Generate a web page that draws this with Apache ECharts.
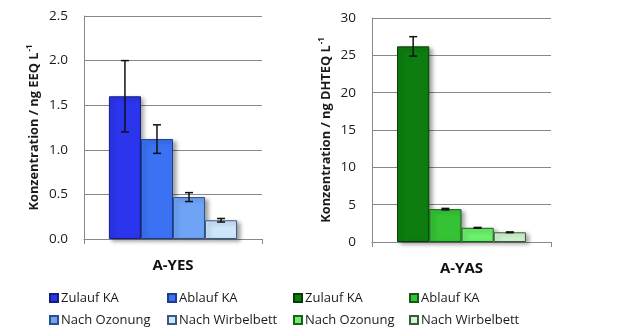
<!DOCTYPE html>
<html>
<head>
<meta charset="utf-8">
<script src="https://cdn.jsdelivr.net/npm/echarts@6/dist/echarts.min.js"></script>
<style>
  html, body { margin: 0; padding: 0; background: #fff; }
  #chart { width: 624px; height: 332px; }
</style>
</head>
<body>
<div id="chart"></div>
<script>
// Stages of wastewater treatment shown in both panels
const stages = ['Zulauf KA', 'Ablauf KA', 'Nach Ozonung', 'Nach Wirbelbett'];

// A-YES (estrogenic activity, ng EEQ/L)
const yesCategory = ['A-YES'];
const yesValues = [1.60, 1.12, 0.47, 0.21];
const yesErrors = [0.40, 0.16, 0.05, 0.02];
const yesTicks = [0, 0.5, 1.0, 1.5, 2.0, 2.5];

// A-YAS (anti-androgenic activity, ng DHTEQ/L)
const yasCategory = ['A-YAS'];
const yasValues = [26.2, 4.4, 1.9, 1.3];
const yasErrors = [1.3, 0.1, 0.05, 0.05];
const yasTicks = [0, 5, 10, 15, 20, 25, 30];

const FONT = 'Open Sans';
const blueFill = ['#2b35ee', '#3b72f4', '#6ea3f6', '#cde6fb'];
const blueEdge = ['#15207a', '#1d3c8a', '#2c4f8a', '#3a5a80'];
const greenFill = ['#0d7d10', '#35c335', '#6af06a', '#d0f5d0'];
const greenEdge = ['#063d06', '#145c14', '#1f5f1f', '#3a5a3a'];
const CAT_GAP = 0.28;

const chart = echarts.init(document.getElementById('chart'), null, { renderer: 'canvas' });

function barSeries(prefix, values, fills, edges, axisIdx) {
  return values.map((v, i) => ({
    name: prefix + '|' + stages[i],
    type: 'bar',
    xAxisIndex: axisIdx,
    yAxisIndex: axisIdx,
    data: [v],
    barGap: '0%',
    barCategoryGap: (CAT_GAP * 100) + '%',
    itemStyle: {
      color: fills[i],
      borderColor: edges[i],
      borderWidth: 1,
      shadowColor: 'rgba(0,0,0,0.35)',
      shadowBlur: 4,
      shadowOffsetX: 3,
      shadowOffsetY: 2
    },
    emphasis: { disabled: true },
    z: 2
  }));
}

function errorSeries(values, errors, axisIdx) {
  const n = values.length;
  return {
    type: 'custom',
    xAxisIndex: axisIdx,
    yAxisIndex: axisIdx,
    z: 5,
    silent: true,
    data: values.map((v, i) => [0, i, v, errors[i]]),
    encode: { x: 0, y: 2 },
    renderItem: function (params, api) {
      const i = api.value(1);
      const v = api.value(2);
      const e = api.value(3);
      const band = api.size([1, 0])[0];
      const bw = band * (1 - CAT_GAP) / n;
      const hi = api.coord([0, v + e]);
      const lo = api.coord([0, v - e]);
      const x = hi[0] + (i - (n - 1) / 2) * bw;
      const cap = 4;
      const style = { stroke: '#111', lineWidth: 1.5 };
      return {
        type: 'group',
        children: [
          { type: 'line', shape: { x1: x, y1: hi[1], x2: x, y2: lo[1] }, style: style },
          { type: 'line', shape: { x1: x - cap, y1: hi[1], x2: x + cap, y2: hi[1] }, style: style },
          { type: 'line', shape: { x1: x - cap, y1: lo[1], x2: x + cap, y2: lo[1] }, style: style }
        ]
      };
    }
  };
}

function legendCol(names, left) {
  return {
    data: names,
    orient: 'vertical',
    left: left,
    top: 290,
    height: 60,
    padding: 0,
    itemGap: 6,
    itemWidth: 8,
    itemHeight: 8,
    icon: 'rect',
    selectedMode: false,
    formatter: name => name.split('|')[1],
    textStyle: { fontFamily: FONT, fontSize: 13, color: '#1a1a1a', lineHeight: 16, padding: [0, 0, 0, -2] }
  };
}

function yAxis(gridIdx, ticks, title, decimals, gap) {
  return {
    type: 'value',
    gridIndex: gridIdx,
    min: ticks[0],
    max: ticks[ticks.length - 1],
    interval: ticks[1] - ticks[0],
    axisLine: { show: true, lineStyle: { color: '#888', width: 1 } },
    axisTick: { show: false },
    splitLine: { lineStyle: { color: '#888', width: 1 } },
    axisLabel: {
      fontFamily: FONT, fontSize: 13.5, color: '#1a1a1a', margin: 16,
      formatter: v => v.toFixed(decimals)
    },
    name: '{t|' + title + '}{s|-1}',
    nameLocation: 'middle',
    nameRotate: 90,
    nameGap: gap,
    nameTextStyle: {
      rich: {
        t: { fontFamily: FONT, fontSize: 12.8, fontWeight: 'bold', color: '#1a1a1a' },
        s: { fontFamily: FONT, fontSize: 8, fontWeight: 'bold', color: '#1a1a1a', verticalAlign: 'top', padding: [0, 0, 8, 1] }
      }
    }
  };
}

function xAxis(gridIdx, cats) {
  return {
    type: 'category',
    gridIndex: gridIdx,
    data: cats,
    axisLine: { show: true, lineStyle: { color: '#888', width: 1 } },
    axisTick: { show: true, length: 5, lineStyle: { color: '#888' } },
    axisLabel: { fontFamily: FONT, fontSize: 15, fontWeight: 'bold', color: '#111', margin: 19 }
  };
}

const yesNames = stages.map(s => 'YES|' + s);
const yasNames = stages.map(s => 'YAS|' + s);

chart.setOption({
  animation: false,
  backgroundColor: '#fff',
  grid: [
    { left: 84, top: 16, width: 178, height: 223 },
    { left: 372, top: 18, width: 179, height: 224 }
  ],
  xAxis: [xAxis(0, yesCategory), xAxis(1, yasCategory)],
  yAxis: [
    yAxis(0, yesTicks, 'Konzentration / ng EEQ L', 1, 42),
    yAxis(1, yasTicks, 'Konzentration / ng DHTEQ L', 0, 38)
  ],
  legend: [
    legendCol([yesNames[0], yesNames[2]], 49),
    legendCol([yesNames[1], yesNames[3]], 167),
    legendCol([yasNames[0], yasNames[2]], 293),
    legendCol([yasNames[1], yasNames[3]], 409)
  ],
  series: [
    ...barSeries('YES', yesValues, blueFill, blueEdge, 0),
    ...barSeries('YAS', yasValues, greenFill, greenEdge, 1),
    errorSeries(yesValues, yesErrors, 0),
    errorSeries(yasValues, yasErrors, 1)
  ]
});
</script>
</body>
</html>
